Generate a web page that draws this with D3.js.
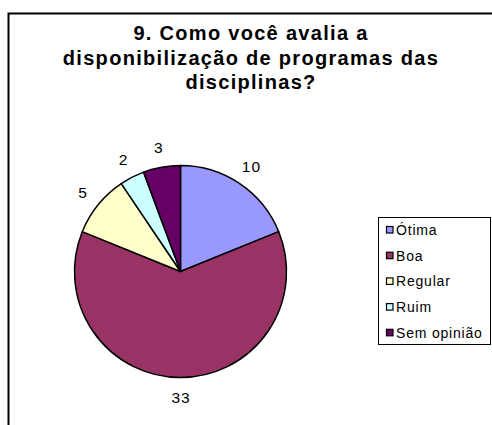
<!DOCTYPE html>
<html><head><meta charset="utf-8">
<script src="https://cdn.jsdelivr.net/npm/d3@7"></script>
<style>body{margin:0;background:#fff}svg{display:block}</style>
</head><body>
<script>
const categories = ["Ótima", "Boa", "Regular", "Ruim", "Sem opinião"];
const values = [10, 33, 5, 2, 3];
const colors = ["#9999FF", "#993366", "#FFFFCC", "#CCFFFF", "#660066"];
const titleLines = ["9. Como você avalia a", "disponibilização de programas das", "disciplinas?"];

const W = 492, H = 425;
const svg = d3.select("body").append("svg").attr("width", W).attr("height", H);
svg.append("rect").attr("width", W).attr("height", H).attr("fill", "#fff");

// chart frame
svg.append("rect").attr("x", 8.5).attr("y", 13.5).attr("width", 520).attr("height", 450)
  .attr("fill", "none").attr("stroke", "#000").attr("stroke-width", 2);

// title
const title = svg.append("text").attr("text-anchor", "middle")
  .attr("font-family", "Liberation Sans, Arial, sans-serif").attr("font-weight", "bold")
  .attr("font-size", 20).attr("letter-spacing", 1.3).attr("fill", "#000");
titleLines.forEach((t, i) => {
  title.append("tspan").attr("x", 251).attr("y", 40 + i * 24.5).text(t);
});

// pie
const cx = 180.5, cy = 271.5, R = 106;
const color = d3.scaleOrdinal().domain(categories).range(colors);
const pie = d3.pie().value(d => d.v).sort(null);
const data = categories.map((c, i) => ({c, v: values[i]}));
const arcs = pie(data);
const arc = d3.arc().innerRadius(0).outerRadius(R);
const g = svg.append("g").attr("transform", `translate(${cx},${cy})`);
g.selectAll("path").data(arcs).join("path")
  .attr("d", arc).attr("fill", d => color(d.data.c))
  .attr("stroke", "#000").attr("stroke-width", 1.5).attr("stroke-linejoin", "round");

const labelArc = d3.arc().innerRadius(126).outerRadius(126);
g.selectAll("text").data(arcs).join("text")
  .attr("transform", d => `translate(${labelArc.centroid(d)})`)
  .attr("text-anchor", "middle").attr("dominant-baseline", "central")
  .attr("font-family", "Liberation Sans, Arial, sans-serif").attr("font-size", 15.5)
  .attr("letter-spacing", 1).attr("dx", 0.5)
  .attr("fill", "#000").text(d => d.data.v);

// legend
const lg = svg.append("g");
lg.append("rect").attr("x", 378.5).attr("y", 217.5).attr("width", 112).attr("height", 127)
  .attr("fill", "#fff").attr("stroke", "#000").attr("stroke-width", 1);
const items = lg.selectAll("g.item").data(categories).join("g").attr("class", "item")
  .attr("transform", (d, i) => `translate(0,${230 + i * 25.7})`);
items.append("rect").attr("x", 386.5).attr("y", -3.5).attr("width", 6.5).attr("height", 6.5)
  .attr("fill", d => color(d)).attr("stroke", "#000").attr("stroke-width", 1.2);
items.append("text").attr("x", 396).attr("y", 0).attr("dominant-baseline", "central")
  .attr("font-family", "Liberation Sans, Arial, sans-serif").attr("font-size", 14)
  .attr("letter-spacing", 0.8)
  .attr("fill", "#000").text(d => d);
</script>
</body></html>
